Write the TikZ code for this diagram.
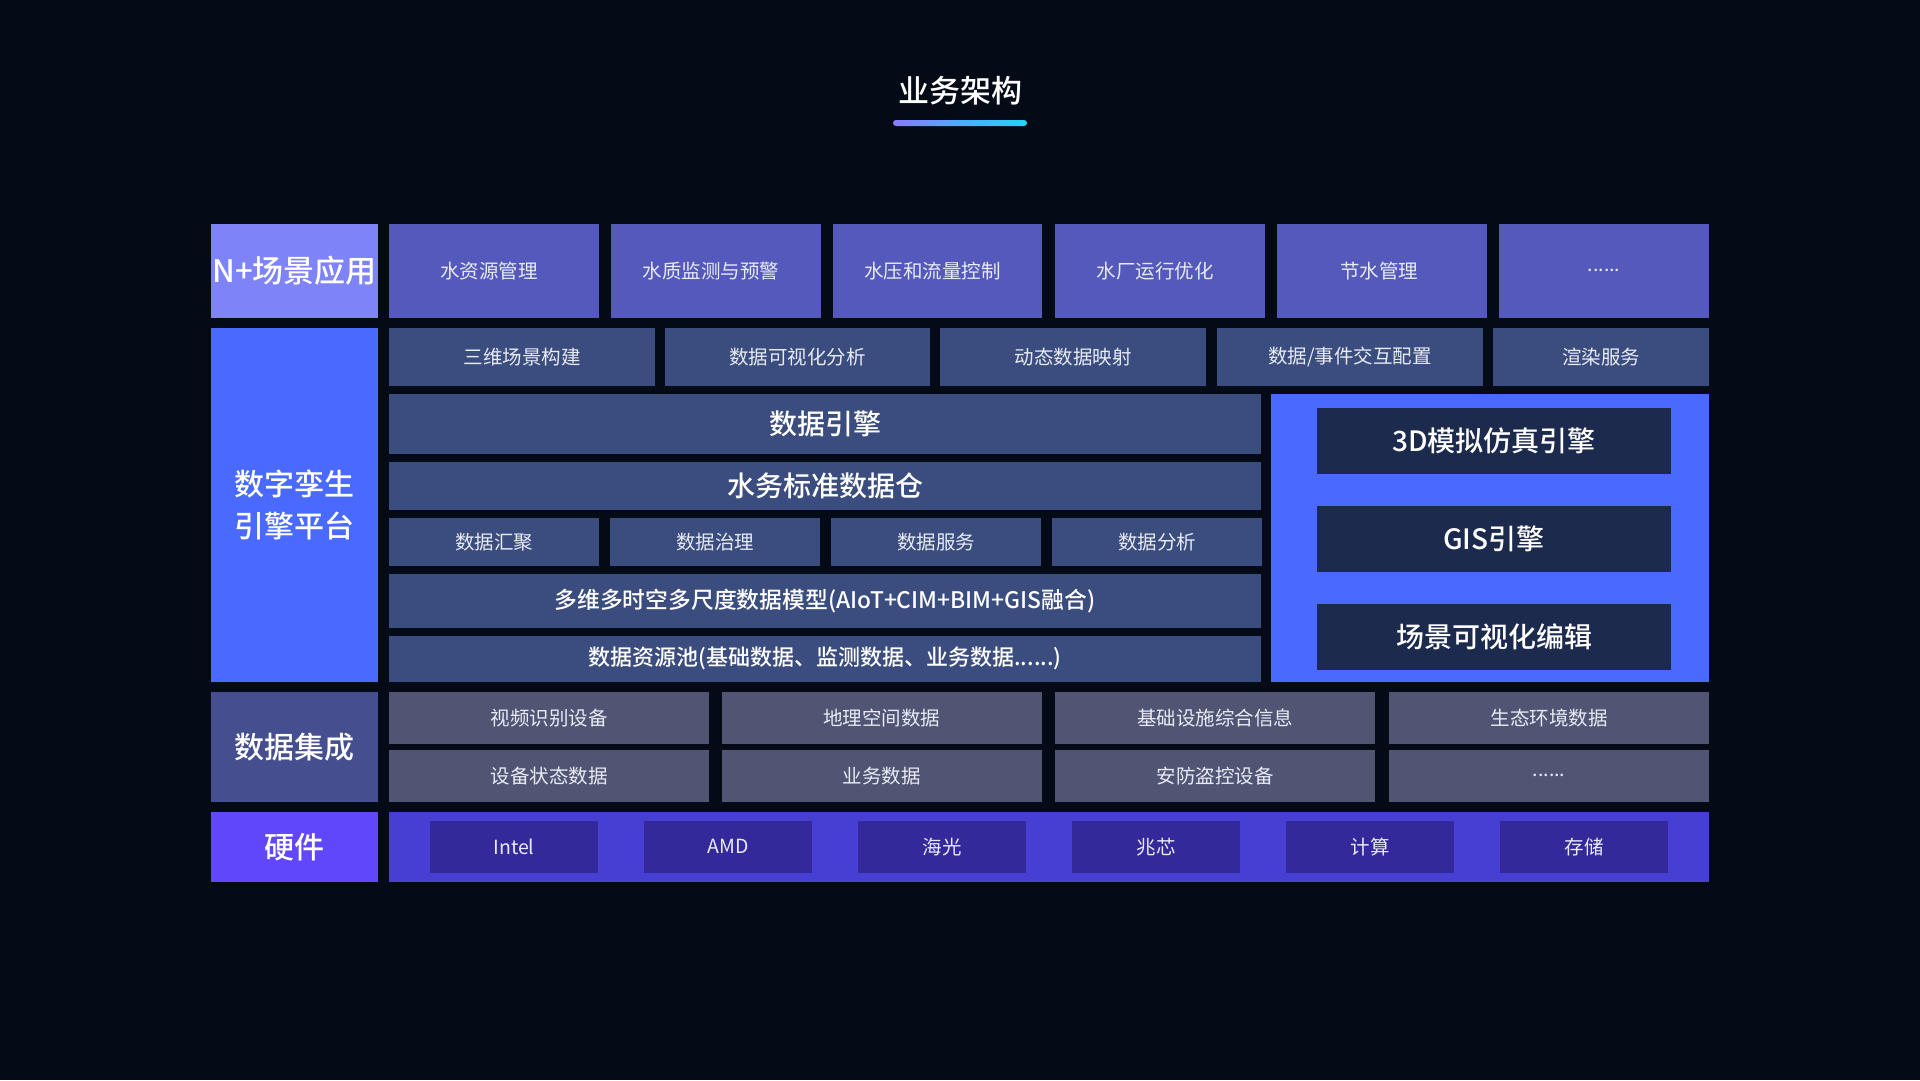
\documentclass[tikz,border=0pt]{standalone}
\usepackage{fontspec}
\setmainfont{Noto Sans CJK SC}
\newfontfamily\cjk{Noto Sans CJK SC}
\newfontfamily\cjkm{Noto Sans CJK SC Medium}
\definecolor{bgc}{HTML}{050A17}
\definecolor{nplus}{HTML}{7E84F7}
\definecolor{appc}{HTML}{5559BB}
\definecolor{dtc}{HTML}{4A6AFF}
\definecolor{dtsub}{HTML}{3B4D7E}
\definecolor{innerc}{HTML}{1C2A4D}
\definecolor{dic}{HTML}{454F90}
\definecolor{disub}{HTML}{505574}
\definecolor{hwc}{HTML}{6147FB}
\definecolor{hwpanel}{HTML}{473FD3}
\definecolor{hwinner}{HTML}{33299B}
\definecolor{txtc}{HTML}{E8EBF6}
\definecolor{ulA}{HTML}{8A7CF7}
\definecolor{ulB}{HTML}{1CD8F6}
\tikzset{
  cell/.style={draw=none, inner sep=0pt, outer sep=0pt, align=center},
  leftlabel/.style={cell, text=white, font=\cjkm\fontsize{30}{42}\selectfont},
  apptxt/.style={cell, fill=appc, text=txtc, font=\cjk\fontsize{19.5}{24}\selectfont},
  subtxt/.style={cell, fill=dtsub, text=txtc, font=\cjk\fontsize{19.5}{24}\selectfont},
  bigtxt/.style={cell, fill=dtsub, text=white, font=\cjkm\fontsize{28}{32}\selectfont},
  midtxt/.style={cell, fill=dtsub, text=white, font=\cjkm\fontsize{22}{24}\selectfont},
  engtxt/.style={cell, fill=innerc, text=white, font=\cjkm\fontsize{28}{32}\selectfont},
  ditxt/.style={cell, fill=disub, text=txtc, font=\cjk\fontsize{19.5}{24}\selectfont},
  hwtxt/.style={cell, fill=hwinner, text=txtc, font=\cjk\fontsize{19.5}{24}\selectfont},
  panel/.style={cell}
}
% \bx{name}{style}{x1}{y1}{x2}{y2}{text}
\newcommand\bx[7]{\node[#2, minimum width={(#5-#3)*1pt}, minimum height={(#6-#4)*1pt}] (#1) at ({(#3+#5)/2},{(#4+#6)/2}) {#7};}
\begin{document}
\begin{tikzpicture}[x=1pt,y=-1pt]
\useasboundingbox (0,0) rectangle (1920,1080);
\fill[bgc] (0,0) rectangle (1920,1080);
% title
\node[cell, text=white, font=\cjkm\fontsize{31}{36}\selectfont] (title) at (960,91) {业务架构};
\shade[left color=ulA, right color=ulB, rounded corners=3pt] (893,120) rectangle (1027,126);
% row 1
\bx{nplus}{leftlabel, fill=nplus, font=\cjkm\fontsize{31}{36}\selectfont}{211}{224}{378}{317.5}{N+场景应用}
\bx{a1}{apptxt}{389}{224}{599}{317.5}{\hspace*{-10pt}水资源管理}
\bx{a2}{apptxt}{611}{224}{820.5}{317.5}{\hspace*{-10pt}水质监测与预警}
\bx{a3}{apptxt}{833}{224}{1042}{317.5}{\hspace*{-10pt}水压和流量控制}
\bx{a4}{apptxt}{1055}{224}{1265}{317.5}{\hspace*{-10pt}水厂运行优化}
\bx{a5}{apptxt}{1277}{224}{1487}{317.5}{\hspace*{-6pt}节水管理}
\bx{a6}{apptxt}{1499}{224}{1709}{317.5}{......}
% row 2 digital twin
\bx{dt}{leftlabel, fill=dtc}{211}{328}{378}{681.5}{数字孪生\\引擎平台}
\bx{t1}{subtxt}{389}{328}{655}{385.5}{三维场景构建}
\bx{t2}{subtxt}{665}{328}{929.5}{385.5}{数据可视化分析}
\bx{t3}{subtxt}{940}{328}{1206}{385.5}{动态数据映射}
\bx{t4}{subtxt}{1217}{328}{1483}{385.5}{数据/事件交互配置}
\bx{t5}{subtxt}{1493}{328}{1709}{385.5}{渲染服务}
\bx{de}{bigtxt}{389}{394}{1261}{453.5}{数据引擎}
\bx{ws}{bigtxt}{389}{462}{1261}{509.5}{水务标准数据仓}
\bx{s1}{subtxt}{389}{518}{599}{565.5}{数据汇聚}
\bx{s2}{subtxt}{610}{518}{820}{565.5}{数据治理}
\bx{s3}{subtxt}{831}{518}{1041}{565.5}{数据服务}
\bx{s4}{subtxt}{1052}{518}{1262}{565.5}{数据分析}
\bx{mm}{midtxt, font=\cjkm\fontsize{22.8}{24}\selectfont}{389}{574}{1261}{627.5}{多维多时空多尺度数据模型(AIoT+CIM+BIM+GIS融合)}
\bx{rp}{midtxt}{389}{636}{1261}{681.5}{数据资源池(基础数据、监测数据、业务数据......)}
\bx{panel}{panel, fill=dtc}{1271}{394}{1709}{681.5}{}
\bx{e1}{engtxt}{1317}{408}{1671}{473.5}{3D模拟仿真引擎}
\bx{e2}{engtxt}{1317}{506}{1671}{571.5}{GIS引擎}
\bx{e3}{engtxt}{1317}{604}{1671}{669.5}{场景可视化编辑}
% row 3 data integration
\bx{di}{leftlabel, fill=dic}{211}{692}{378}{801.5}{数据集成}
\bx{d1}{ditxt}{389}{692}{709}{743.5}{视频识别设备}
\bx{d2}{ditxt}{722}{692}{1041.5}{743.5}{地理空间数据}
\bx{d3}{ditxt}{1055}{692}{1375}{743.5}{基础设施综合信息}
\bx{d4}{ditxt}{1389}{692}{1709}{743.5}{生态环境数据}
\bx{d5}{ditxt}{389}{750}{709}{801.5}{设备状态数据}
\bx{d6}{ditxt}{722}{750}{1041.5}{801.5}{业务数据}
\bx{d7}{ditxt}{1055}{750}{1375}{801.5}{安防盗控设备}
\bx{d8}{ditxt}{1389}{750}{1709}{801.5}{......}
% row 4 hardware
\bx{hw}{leftlabel, fill=hwc}{211}{812}{378}{881.5}{硬件}
\bx{hwp}{panel, fill=hwpanel}{389}{812}{1709}{881.5}{}
\bx{h1}{hwtxt}{430}{821}{598}{872.5}{Intel}
\bx{h2}{hwtxt}{644}{821}{812}{872.5}{AMD}
\bx{h3}{hwtxt}{858}{821}{1026}{872.5}{海光}
\bx{h4}{hwtxt}{1072}{821}{1240}{872.5}{兆芯}
\bx{h5}{hwtxt}{1286}{821}{1454}{872.5}{计算}
\bx{h6}{hwtxt}{1500}{821}{1668}{872.5}{存储}
\end{tikzpicture}
\end{document}
